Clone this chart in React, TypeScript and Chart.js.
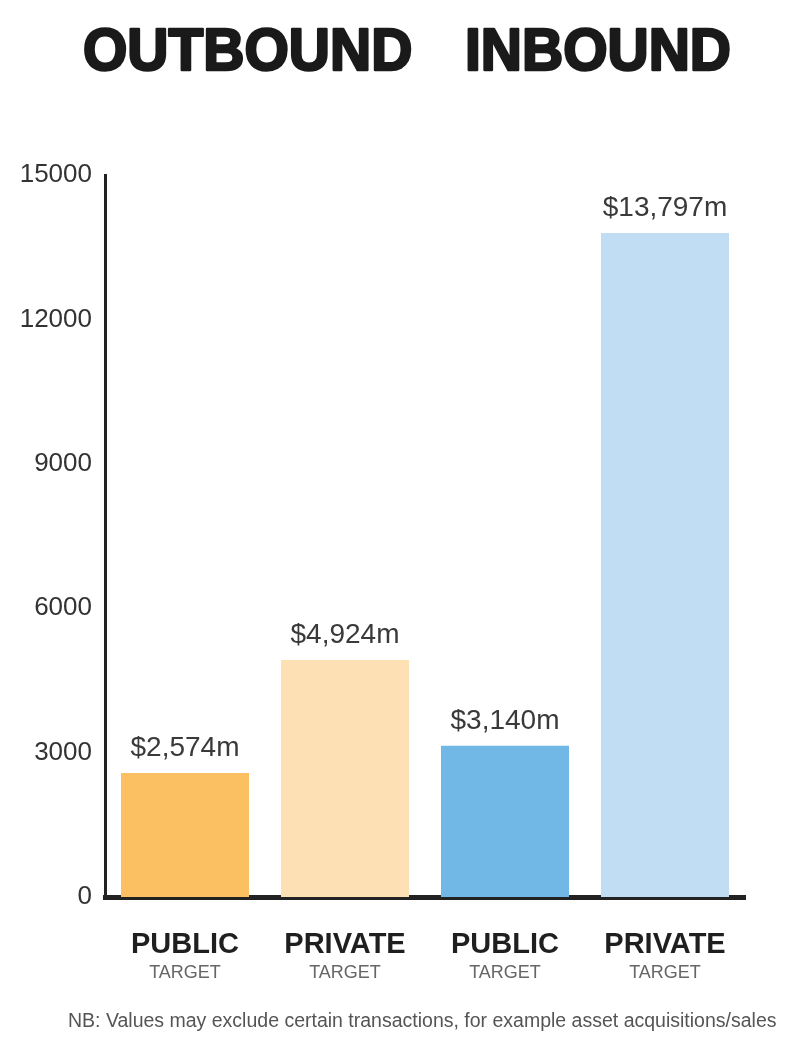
import React, { useEffect, useRef } from "react";
import { Chart, registerables } from "chart.js";

Chart.register(...registerables);

const categories = ["PUBLIC", "PRIVATE", "PUBLIC", "PRIVATE"];
const subLabels = ["TARGET", "TARGET", "TARGET", "TARGET"];
const values = [2574, 4924, 3140, 13797];
const valueLabels = ["$2,574m", "$4,924m", "$3,140m", "$13,797m"];
const barColors = ["#FBC062", "#FDE1B5", "#71B8E6", "#C0DDF4"];
const yTicks = [0, 3000, 6000, 9000, 12000, 15000];
const titleWords = ["OUTBOUND", "INBOUND"];
const footnote = "NB: Values may exclude certain transactions, for example asset acquisitions/sales";

const FONT = "'Liberation Sans', Arial, sans-serif";

const labelsPlugin = {
  id: "customLabels",
  afterDraw(chart: any) {
    const ctx = chart.ctx;
    const meta = chart.getDatasetMeta(0);
    const xs = chart.scales.x;
    ctx.save();
    // title
    ctx.fillStyle = "#1a1a1a";
    ctx.strokeStyle = "#1a1a1a";
    ctx.lineWidth = 2.5;
    ctx.lineJoin = "round";
    ctx.font = `bold 57px ${FONT}`;
    ctx.textBaseline = "alphabetic";
    ctx.textAlign = "left";
    const titleX = [83, 465];
    titleWords.forEach((w, i) => {
      ctx.save();
      ctx.translate(titleX[i], 70);
      ctx.scale(1, 1.05);
      ctx.fillText(w, 0, 0);
      ctx.strokeText(w, 0, 0);
      ctx.restore();
    });
    // value labels
    ctx.font = `28px ${FONT}`;
    ctx.fillStyle = "#3a3a3a";
    ctx.textAlign = "center";
    ctx.textBaseline = "alphabetic";
    meta.data.forEach((bar: any, i: number) => {
      ctx.fillText(valueLabels[i], bar.x, bar.y - 17);
    });
    // category labels
    categories.forEach((c, i) => {
      const x = xs.getPixelForValue(i);
      ctx.font = `bold 29px ${FONT}`;
      ctx.fillStyle = "#1f1f1f";
      ctx.textBaseline = "middle";
      ctx.fillText(c, x, 945);
      ctx.font = `18px ${FONT}`;
      ctx.fillStyle = "#666";
      ctx.fillText(subLabels[i], x, 973);
    });
    // footnote
    ctx.font = `19.5px ${FONT}`;
    ctx.fillStyle = "#555";
    ctx.textAlign = "left";
    ctx.fillText(footnote, 68, 1022, 714);
    ctx.restore();
  },
};

export default function App() {
  const ref = useRef<HTMLCanvasElement>(null);
  useEffect(() => {
    if (!ref.current) return;
    const chart = new Chart(ref.current, {
      type: "bar",
      data: {
        labels: categories.map((c, i) => `${c} ${subLabels[i]} ${i}`),
        datasets: [
          {
            data: values,
            backgroundColor: barColors,
            borderWidth: 0,
            barPercentage: 0.8,
            categoryPercentage: 1,
          },
        ],
      },
      options: {
        responsive: false,
        animation: false,
        layout: { padding: { top: 175, bottom: 159, left: 0, right: 55 } },
        plugins: {
          legend: { display: false },
          tooltip: { enabled: false },
          title: { display: false },
        },
        scales: {
          x: {
            grid: { display: false, drawTicks: false },
            ticks: { display: false },
            border: { display: true, color: "#222", width: 5 },
            afterFit: (s: any) => {
              s.height = 0;
            },
          },
          y: {
            min: 0,
            max: 15000,
            afterBuildTicks: (s: any) => {
              s.ticks = yTicks.map((v) => ({ value: v }));
            },
            grid: { display: false, drawTicks: false },
            border: { display: true, color: "#222", width: 3 },
            ticks: {
              padding: 13,
              color: "#333",
              font: { family: FONT, size: 26 },
              callback: (v: any) => String(v),
            },
            afterFit: (s: any) => {
              s.width = 105;
            },
          },
        },
      },
      plugins: [labelsPlugin],
    });
    return () => chart.destroy();
  }, []);
  return (
    <div style={{ position: "absolute", left: 0, top: 0, width: 800, height: 1056, background: "#fff" }}>
      <canvas ref={ref} width={800} height={1056} style={{ display: "block" }} />
    </div>
  );
}
